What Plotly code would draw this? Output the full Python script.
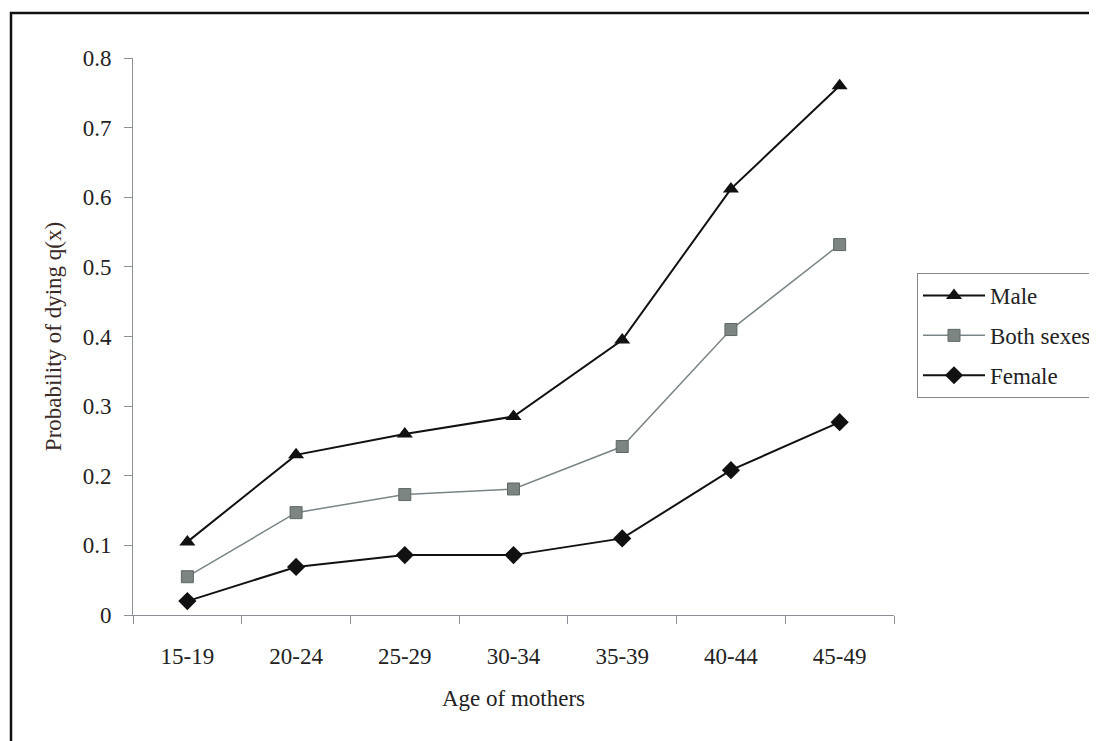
import plotly.graph_objects as go

age_groups = ["15-19", "20-24", "25-29", "30-34", "35-39", "40-44", "45-49"]
male = [0.105, 0.230, 0.260, 0.285, 0.395, 0.612, 0.760]
both_sexes = [0.055, 0.147, 0.173, 0.181, 0.242, 0.410, 0.532]
female = [0.020, 0.069, 0.086, 0.086, 0.110, 0.208, 0.277]
y_ticks = [0, 0.1, 0.2, 0.3, 0.4, 0.5, 0.6, 0.7, 0.8]

FONT = "Liberation Serif, Times New Roman, serif"
FS = 23

fig = go.Figure()
fig.add_trace(go.Scatter(x=age_groups, y=male, name="Male", mode="lines+markers",
                         legendgroup="m",
                         line=dict(color="#111111", width=2),
                         marker=dict(symbol="triangle-up", size=14, color="#111111")))
fig.add_trace(go.Scatter(x=age_groups, y=both_sexes, name="Both sexes", mode="lines+markers",
                         legendgroup="b",
                         line=dict(color="#7a8588", width=1.5),
                         marker=dict(symbol="square", size=12, color="#7d8583",
                                     line=dict(color="#5f6866", width=1))))
fig.add_trace(go.Scatter(x=age_groups, y=female, name="Female", mode="lines+markers",
                         legendgroup="f",
                         line=dict(color="#111111", width=2),
                         marker=dict(symbol="diamond", size=14, color="#111111")))

# page offset from default body margin
OFF = 8
W, H = 1097 - OFF, 741 - OFF
# plot area in page pixels: x 133..894, y 58..615
PL, PR, PT, PB = 133, 894, 58, 615
L, T = PL - OFF, PT - OFF
pw, ph = PR - PL, PB - PT
R = W - L - pw
B = H - T - ph

def px_x(p):
    return (p - PL) / pw

def px_y(p):
    return (PB - p) / ph

fig.add_shape(type="rect", xref="paper", yref="paper",
              x0=px_x(11), x1=px_x(1120), y0=px_y(760), y1=px_y(13),
              line=dict(color="#111111", width=2.5), fillcolor="rgba(0,0,0,0)")

fig.update_layout(
    width=W, height=H,
    margin=dict(l=L, r=R, t=T, b=B, autoexpand=False),
    paper_bgcolor="white", plot_bgcolor="white",
    font=dict(family=FONT, size=FS, color="#222222"),
    showlegend=True,
    legend=dict(x=px_x(917), y=px_y(273), xanchor="left", yanchor="top",
                bordercolor="#888888", borderwidth=1, bgcolor="white",
                font=dict(family=FONT, size=FS, color="#222222"),
                itemwidth=62, tracegroupgap=7, traceorder="grouped"),
)
fig.update_xaxes(
    type="category", range=[-0.5, 6.5],
    showline=True, linecolor="#8a8f98", linewidth=1,
    ticks="outside", tickson="boundaries", ticklen=8, tickcolor="#8a8f98",
    ticklabelstandoff=20,
    showgrid=False, zeroline=False,
    title=dict(text="Age of mothers", font=dict(family=FONT, size=FS), standoff=22),
    tickfont=dict(family=FONT, size=FS),
)
fig.update_yaxes(
    range=[0, 0.8], tickvals=y_ticks,
    showline=True, linecolor="#8a8f98", linewidth=1,
    ticks="outside", ticklen=8, tickcolor="#8a8f98",
    ticklabelstandoff=8,
    showgrid=False, zeroline=False,
    title=dict(text="Probability of dying q(x)", font=dict(family=FONT, size=FS, color="#3a2a28"), standoff=14),
    tickfont=dict(family=FONT, size=FS),
)

fig.write_html("out.html")
